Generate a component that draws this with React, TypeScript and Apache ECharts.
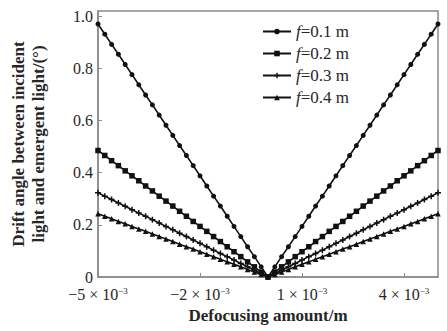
import React, { useEffect, useRef } from "react";
import * as echarts from "echarts";

// Defocusing amount in units of 1e-3 m
const defocus: number[] = [
  -5.0, -4.8, -4.6, -4.4, -4.2, -4.0, -3.8, -3.6, -3.4, -3.2, -3.0, -2.8, -2.6,
  -2.4, -2.2, -2.0, -1.8, -1.6, -1.4, -1.2, -1.0, -0.8, -0.6, -0.4, -0.2, 0.0,
  0.2, 0.4, 0.6, 0.8, 1.0, 1.2, 1.4, 1.6, 1.8, 2.0, 2.2, 2.4, 2.6, 2.8, 3.0,
  3.2, 3.4, 3.6, 3.8, 4.0, 4.2, 4.4, 4.6, 4.8, 5.0,
];

// Drift angle (°) at |defocus| = 0, 0.2, 0.4 ... 5.0 (x1e-3 m); curves are symmetric
const angleF01: number[] = [
  0, 0.039, 0.078, 0.116, 0.155, 0.194, 0.233, 0.272, 0.31, 0.349, 0.388, 0.427,
  0.466, 0.504, 0.543, 0.582, 0.621, 0.66, 0.698, 0.737, 0.776, 0.815, 0.854,
  0.892, 0.931, 0.97,
];
const angleF02: number[] = [
  0, 0.019, 0.039, 0.058, 0.078, 0.097, 0.116, 0.136, 0.155, 0.175, 0.194, 0.213,
  0.233, 0.252, 0.272, 0.291, 0.31, 0.33, 0.349, 0.369, 0.388, 0.407, 0.427,
  0.446, 0.466, 0.485,
];
const angleF03: number[] = [
  0, 0.013, 0.026, 0.039, 0.052, 0.065, 0.078, 0.09, 0.103, 0.116, 0.129, 0.142,
  0.155, 0.168, 0.181, 0.194, 0.207, 0.22, 0.233, 0.245, 0.258, 0.271, 0.284,
  0.297, 0.31, 0.323,
];
const angleF04: number[] = [
  0, 0.01, 0.019, 0.029, 0.039, 0.049, 0.058, 0.068, 0.078, 0.087, 0.097, 0.107,
  0.116, 0.126, 0.136, 0.146, 0.155, 0.165, 0.175, 0.184, 0.194, 0.204, 0.213,
  0.223, 0.233, 0.243,
];

const seriesNames = ["f=0.1 m", "f=0.2 m", "f=0.3 m", "f=0.4 m"];
const yTicks = [0, 0.2, 0.4, 0.6, 0.8, 1.0];

const FONT = "Liberation Serif";
const TXT = "#262626";

function buildPairs(half: number[]): number[][] {
  const full = half.slice(1).reverse().concat(half);
  return defocus.map((x, i) => [x, full[i]]);
}

const PLUS = "path://M3,0H5V3H8V5H5V8H3V5H0V3H3Z";

export default function App() {
  const ref = useRef<HTMLDivElement>(null);

  useEffect(() => {
    if (!ref.current) return;
    const chart = echarts.init(ref.current, undefined, { renderer: "svg" });
    const halves = [angleF01, angleF02, angleF03, angleF04];
    const symbols = ["circle", "rect", PLUS, "triangle"];
    const sizes = [5, 5.5, 6, 5.5];

    chart.setOption({
      animation: false,
      backgroundColor: "#ffffff",
      textStyle: { fontFamily: FONT },
      grid: {
        left: 95,
        right: 9,
        top: 11,
        bottom: 54,
        show: true,
        borderColor: "#8a8a8a",
        borderWidth: 1.5,
        backgroundColor: "transparent",
      },
      legend: {
        orient: "vertical",
        left: 257,
        top: 18,
        itemWidth: 28,
        itemHeight: 7,
        itemGap: 5,
        data: seriesNames,
        textStyle: {
          fontFamily: FONT,
          fontSize: 17,
          color: TXT,
          lineHeight: 16,
          rich: {
            i: { fontFamily: FONT, fontSize: 17, fontStyle: "italic", color: TXT, lineHeight: 16 },
            n: { fontFamily: FONT, fontSize: 17, color: TXT, lineHeight: 16 },
          },
        },
        formatter: (name: string) => `{i|f}{n|${name.slice(1)}}`,
      },
      xAxis: {
        type: "value",
        min: -5,
        max: 5,
        interval: 3,
        name: "Defocusing amount/m",
        nameLocation: "middle",
        nameGap: 29,
        nameTextStyle: { fontFamily: FONT, fontSize: 17, fontWeight: "bold", color: TXT },
        axisLine: { onZero: false, lineStyle: { color: "#8a8a8a", width: 1.5 } },
        axisTick: { inside: true, length: 4, lineStyle: { color: "#8a8a8a" } },
        splitLine: { show: false },
        axisLabel: {
          showMaxLabel: false,
          margin: 9,
          formatter: (v: number) => {
            const n = Math.round(v);
            return `{t|${n < 0 ? "−" : ""}${Math.abs(n)} × 10}{s|−3}`;
          },
          rich: {
            t: { fontFamily: FONT, fontSize: 16, color: TXT, lineHeight: 16 },
            s: { fontFamily: FONT, fontSize: 9, color: TXT, lineHeight: 9, verticalAlign: "top" },
          },
        },
      },
      yAxis: {
        type: "value",
        min: 0,
        max: 1.02,
        interval: 0.2,
        name: "Drift angle between incident\nlight and emergent light/(°)",
        nameLocation: "middle",
        nameGap: 50,
        nameTextStyle: {
          fontFamily: FONT,
          fontSize: 17,
          fontWeight: "bold",
          color: TXT,
          lineHeight: 20,
          align: "center",
        },
        axisLine: { onZero: false, lineStyle: { color: "#8a8a8a", width: 1.5 } },
        axisTick: { inside: true, length: 4, lineStyle: { color: "#8a8a8a" } },
        splitLine: { show: false },
        axisLabel: {
          showMaxLabel: false,
          margin: 5,
          fontFamily: FONT,
          fontSize: 16,
          color: TXT,
          lineHeight: 14,
          formatter: (v: number) => {
            const t = yTicks.find((y) => Math.abs(y - v) < 1e-6);
            if (t === undefined) return "";
            return t === 0 ? "0" : t.toFixed(1);
          },
        },
      },
      series: halves.map((h, i) => ({
        name: seriesNames[i],
        type: "line",
        data: buildPairs(h),
        symbol: symbols[i],
        symbolSize: sizes[i],
        showSymbol: true,
        lineStyle: { color: "#111", width: 1.6 },
        itemStyle: { color: "#111", borderWidth: 0 },
      })),
    });

    return () => chart.dispose();
  }, []);

  return (
    <div
      ref={ref}
      style={{ position: "fixed", left: 0, top: 0, width: 447, height: 331 }}
    />
  );
}
